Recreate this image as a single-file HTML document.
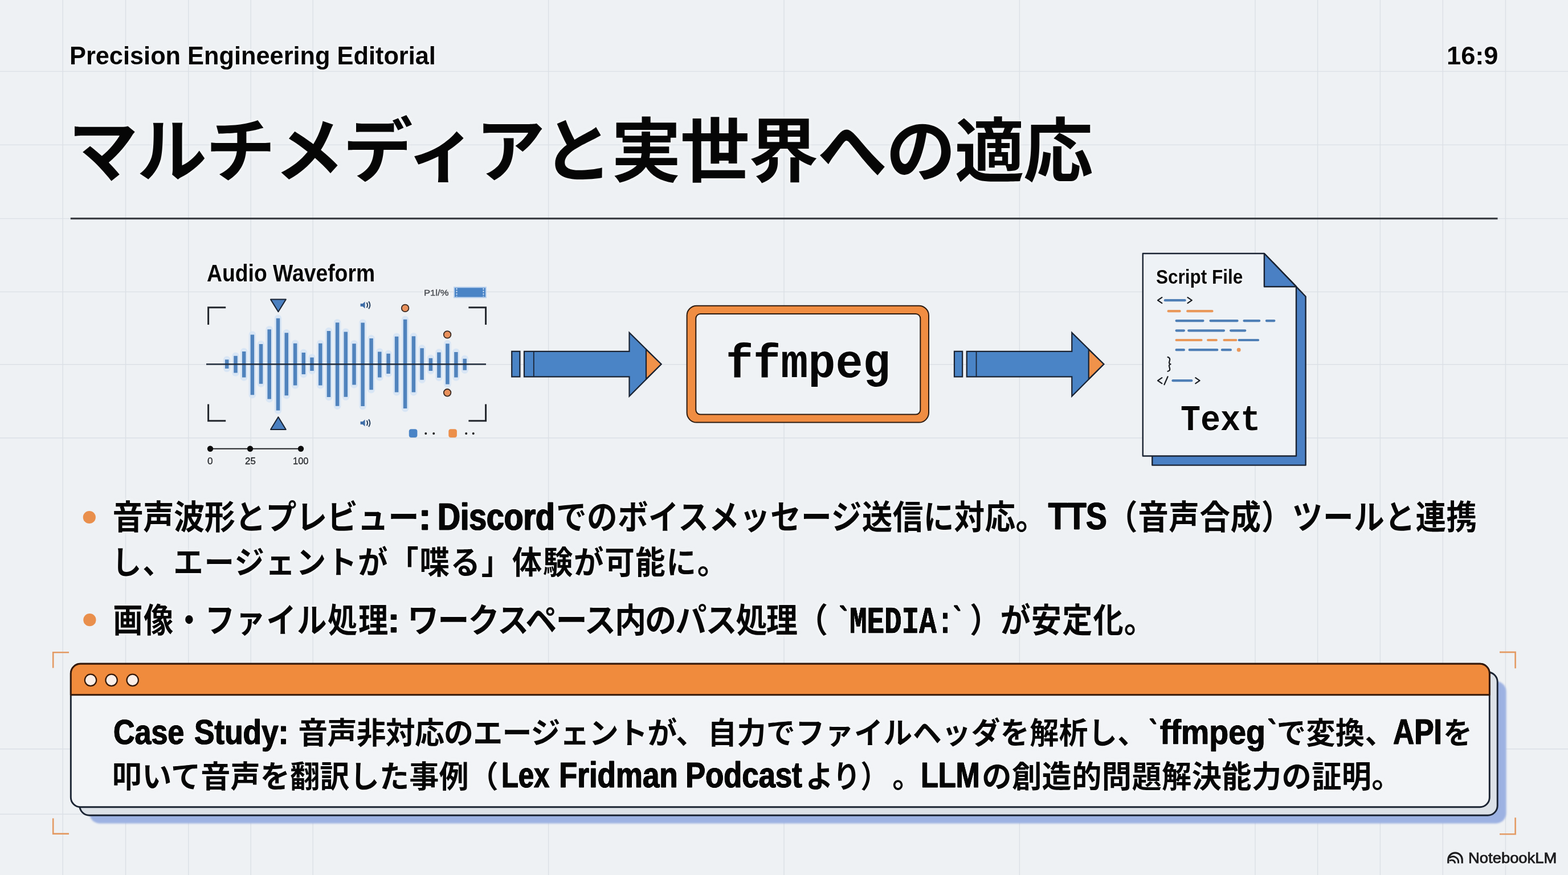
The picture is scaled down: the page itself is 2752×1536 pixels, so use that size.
<!DOCTYPE html>
<html lang="ja"><head><meta charset="utf-8"><title>マルチメディアと実世界への適応</title>
<style>
html,body{margin:0;padding:0}
body{width:2752px;height:1536px;overflow:hidden;position:relative;background:#eef1f4;font-family:"Liberation Sans",sans-serif}
.t{position:absolute;white-space:pre;transform-origin:0 0;font-kerning:none;letter-spacing:0;text-shadow:0 0 3px #f6f8fa,0 0 5px #f6f8fa,0 0 7px rgba(246,248,250,.8)}
svg.jp{filter:drop-shadow(0 0 2.5px rgba(247,249,251,1)) drop-shadow(0 0 3.5px rgba(247,249,251,.9))}
svg.jp text{font-family:"Liberation Sans","Noto Sans CJK JP",sans-serif;font-weight:700;fill:#060606;white-space:pre}
svg{position:absolute;left:0;top:0;overflow:visible}

</style></head><body>
<svg width="2752" height="1536" viewBox="0 0 2752 1536"><path d="M110.2 0V1536M220.5 0V1536M330.7 0V1536M440.2 0V1536M549.2 0V1536M962.6 0V1536M1376 0V1536M1789.4 0V1536M2203 0V1536M2312.6 0V1536M2422.4 0V1536M2532.3 0V1536M2642.4 0V1536M0 125.4H2752M0 254.4H2752M0 383.6H2752M0 512.4H2752M0 639.8H2752M0 768.8H2752M0 1314.8H2752M0 1429.2H165" stroke="#d3d8df" stroke-width="1.4" fill="none" opacity=".7"/>
<path d="M123.8 383.6H2628.5" stroke="#3c3f44" stroke-width="3.2"/>
<path d="M398.2 631.3V647.0M413.5 624.7V654.5M428.2 617.1V662.6M442.9 587.4V693.2M458.0 604.1V673.7M472.7 578.2V700.4M488.0 558.7V720.5M502.8 584.3V694.3M518.1 602.7V676.5M532.8 619.1V657.0M547.5 627.4V650.9M562.3 602.7V676.5M577.0 581.0V697.1M592.1 566.2V712.7M606.8 582.4V696.8M621.5 603.2V675.4M636.6 566.5V713.0M651.6 594.1V684.3M666.3 617.4V662.6M681.6 620.8V655.9M696.1 590.7V688.5M711.1 560.7V717.1M725.9 590.2V688.5M740.6 611.3V666.8M755.9 628.8V650.9M770.4 618.5V662.9M785.4 603.2V674.6M800.4 618.0V662.6M815.7 629.7V649.8" stroke="#d3e3f5" stroke-width="12.5" stroke-linecap="round" fill="none" opacity=".8"/>
<path d="M398.2 631.3V647.0M413.5 624.7V654.5M428.2 617.1V662.6M442.9 587.4V693.2M458.0 604.1V673.7M472.7 578.2V700.4M488.0 558.7V720.5M502.8 584.3V694.3M518.1 602.7V676.5M532.8 619.1V657.0M547.5 627.4V650.9M562.3 602.7V676.5M577.0 581.0V697.1M592.1 566.2V712.7M606.8 582.4V696.8M621.5 603.2V675.4M636.6 566.5V713.0M651.6 594.1V684.3M666.3 617.4V662.6M681.6 620.8V655.9M696.1 590.7V688.5M711.1 560.7V717.1M725.9 590.2V688.5M740.6 611.3V666.8M755.9 628.8V650.9M770.4 618.5V662.9M785.4 603.2V674.6M800.4 618.0V662.6M815.7 629.7V649.8" stroke="#5083bd" stroke-width="6.5" stroke-linecap="butt" fill="none"/>
<path d="M362 639.3H853" stroke="#1f2a3a" stroke-width="2.8" opacity=".92"/>
<path d="M365.6 570V539.8H396.2M822.4 539.8H852.6V570M365.6 709.5V738.8H396.2M822.4 738.8H852.6V709.5" stroke="#22262c" stroke-width="3" fill="none"/>
<path d="M475 525.6H501.8L488.4 547.2Z M475 754H501.8L488.4 732Z" fill="#4b80c0" stroke="#1a2332" stroke-width="2" stroke-linejoin="round"/>
<circle cx="711.1" cy="540.9" r="6.3" fill="#e9915c" stroke="#3a2a22" stroke-width="1.8"/>
<circle cx="785.1" cy="587.4" r="6.3" fill="#e9915c" stroke="#3a2a22" stroke-width="1.8"/>
<circle cx="785.1" cy="689.3" r="6.3" fill="#e9915c" stroke="#3a2a22" stroke-width="1.8"/>
<g transform="translate(641.6 535.6)" fill="none" stroke="#27405f" stroke-width="2"><path d="M-9 -2.5h4l4 -3.5v12l-4 -3.5h-4z" fill="#3f6ea8" stroke="none"/><path d="M2 -4.5q3 4.5 0 9M5.5 -6.5q4.5 6.5 0 13"/></g>
<g transform="translate(641.6 742.6)" fill="none" stroke="#27405f" stroke-width="2"><path d="M-9 -2.5h4l4 -3.5v12l-4 -3.5h-4z" fill="#3f6ea8" stroke="none"/><path d="M2 -4.5q3 4.5 0 9M5.5 -6.5q4.5 6.5 0 13"/></g>
<rect x="797" y="504.3" width="56" height="18" fill="#4a84c6" stroke="#bcd3ee" stroke-width="2"/><path d="M801.5 506v14.6M848.5 506v14.6" stroke="#cfe0f3" stroke-width="2" stroke-dasharray="2.5 2"/>
<rect x="717.8" y="753.3" width="14.6" height="14.6" rx="4" fill="#4a84c6"/><rect x="787.3" y="753.3" width="14.6" height="14.6" rx="4" fill="#ec8f4a"/>
<path d="M747.3 761h.01M761.2 761h.01M818.2 761h.01M830.7 761h.01" stroke="#1b1b1b" stroke-width="4" stroke-linecap="round"/>
<path d="M369 787.8H528" stroke="#202225" stroke-width="2"/>
<circle cx="369" cy="787.8" r="5.2" fill="#0c0c0c"/>
<circle cx="439" cy="787.8" r="5.2" fill="#0c0c0c"/>
<circle cx="528" cy="787.8" r="5.2" fill="#0c0c0c"/>
<g transform="translate(0 0)" stroke="#1a2332" stroke-width="2.2" stroke-linejoin="miter"><rect x="898.2" y="616.8" width="14.2" height="44.6" fill="#4a84c6"/><path d="M920 616.8H1104.5V584L1160.5 639.2L1104.5 695.5V661.4H920Z" fill="#4a84c6"/><path d="M1134 613.5L1160.5 639.2L1134 665.5Z" fill="#f0924a"/><path d="M936.8 616.8V661.4" fill="none" stroke-width="1.8"/></g>
<g transform="translate(776.75 0)" stroke="#1a2332" stroke-width="2.2" stroke-linejoin="miter"><rect x="898.2" y="616.8" width="14.2" height="44.6" fill="#4a84c6"/><path d="M920 616.8H1104.5V584L1160.5 639.2L1104.5 695.5V661.4H920Z" fill="#4a84c6"/><path d="M1134 613.5L1160.5 639.2L1134 665.5Z" fill="#f0924a"/><path d="M936.8 616.8V661.4" fill="none" stroke-width="1.8"/></g>
<rect x="1205.6" y="536.8" width="424.4" height="204.8" rx="17" fill="#f08d42" stroke="#2a1a10" stroke-width="2"/>
<rect x="1221.3" y="551" width="394" height="176.6" rx="8" fill="#eff2f5" stroke="#2a1a10" stroke-width="2"/>
<path d="M2022.3 461H2234.5L2291.6 520.5V816.6H2022.3Z" fill="#4a80c4" stroke="#1a2332" stroke-width="2.4" stroke-linejoin="round"/>
<path d="M2005.8 445H2218.9L2275 503.2V800.5H2005.8Z" fill="#eef2f6" stroke="#1a2332" stroke-width="2.4" stroke-linejoin="round"/>
<path d="M2218.9 445V503.2H2275Z" fill="#4a80c4" stroke="#1a2332" stroke-width="2.4" stroke-linejoin="round"/>
<path d="M2044.8 527.2H2079.6" stroke="#4f7fb6" stroke-width="4.2" stroke-linecap="round" fill="none"/>
<path d="M2050.6 546.2H2070.6M2084.2 546.2H2127.5" stroke="#e9985a" stroke-width="4.2" stroke-linecap="round" fill="none"/>
<path d="M2064.6 563.1H2111.5M2124.5 563.1H2171.6M2183.5 563.1H2210.2M2222.9 563.1H2236.4" stroke="#4f7fb6" stroke-width="4.2" stroke-linecap="round" fill="none"/>
<path d="M2064.6 580.3H2077.9M2086.2 580.3H2148.0M2160.1 580.3H2185.3" stroke="#4f7fb6" stroke-width="4.2" stroke-linecap="round" fill="none"/>
<path d="M2064.6 597.0H2108.5M2120.1 597.0H2134.8M2148.5 597.0H2169.3" stroke="#e9985a" stroke-width="4.2" stroke-linecap="round" fill="none"/>
<path d="M2174.7 597.0H2208.1" stroke="#4f7fb6" stroke-width="4.2" stroke-linecap="round" fill="none"/>
<path d="M2064.6 614.2H2077.9M2087.7 614.2H2136.3M2144.9 614.2H2159.9" stroke="#4f7fb6" stroke-width="4.2" stroke-linecap="round" fill="none"/>
<circle cx="2174.2" cy="614.2" r="3.4" fill="#e9985a"/>
<path d="M2039.3 522.2L2032.0 527.2L2039.3 532.2M2084.5 522.2L2091.8 527.2L2084.5 532.2M2039.3 663.2L2032.0 668.2L2039.3 673.2M2043.4 675.2L2049.5 661.2M2098.3 663.2L2105.6 668.2L2098.3 673.2M2049.5 626.8q4.5 1.5 3.5 5.5l-1 4q-.3 2 2.5 3q-3 1 -2.5 3.5l1 4q1 4 -3.5 5" stroke="#1a1d22" stroke-width="2.2" fill="none" stroke-linecap="round" stroke-linejoin="round"/>
<path d="M2058.5 668.2H2091.3" stroke="#4f7fb6" stroke-width="4.2" stroke-linecap="round" fill="none"/>
<circle cx="156.8" cy="908" r="11.1" fill="#e98f4c"/><circle cx="157.4" cy="1088.2" r="11.1" fill="#e98f4c"/>
<rect x="157" y="1196" width="2486.5" height="249.4" rx="18" fill="#9db2e2" style="filter:blur(1.5px)"/>
<rect x="139.8" y="1180" width="2488.4" height="251.3" rx="17" fill="#dce1e7" stroke="#1a2332" stroke-width="2.9"/>
<rect x="124.3" y="1165.3" width="2490" height="251.5" rx="17" fill="#f2f4f7" stroke="#1a2332" stroke-width="2.9"/>
<path d="M124.3 1219.8V1182.3a17 17 0 0 1 17 -17H2597.3a17 17 0 0 1 17 17V1219.8Z" fill="#f08b3d" stroke="#35190a" stroke-width="2.9" stroke-linejoin="round"/>
<circle cx="159" cy="1193.9" r="10.2" fill="#fcefe8" stroke="#35190a" stroke-width="2.2"/>
<circle cx="195.6" cy="1193.9" r="10.2" fill="#fcefe8" stroke="#35190a" stroke-width="2.2"/>
<circle cx="232.7" cy="1193.9" r="10.2" fill="#fcefe8" stroke="#35190a" stroke-width="2.2"/>
<path d="M121 1145.2H93.2V1172.6M2632 1144.9H2659.6V1173.2M93.2 1436.4V1463.6H121M2659.6 1435.2V1464.2H2632" stroke="#e39a63" stroke-width="2.6" fill="none"/>
<g transform="translate(2554 1515.6)" fill="none" stroke="#1b1b1d" stroke-width="3.2"><path d="M-12.2 0V-6.3A12.2 12.2 0 0 1 12.2 -6.3V0"/><path d="M-10 -9.8A9.6 9.6 0 0 1 5.6 -1.5V0M-10 -4.4A6 6 0 0 1 -0.4 -1V0" stroke-width="2.9"/></g></svg>
<svg class="jp" width="2752" height="1536" viewBox="0 0 2752 1536">
<text x="120" y="309.2" font-size="122.5" letter-spacing="-2">マルチメディアと実世界への適応</text>
<text transform="translate(197.41 929.2) scale(0.9162 1)" font-size="59.3" letter-spacing="-0.62">音声波形とプレビュー</text>
<text transform="translate(975.99 929.2) scale(0.9062 1)" font-size="59.3" letter-spacing="0.24">でのボイスメッセージ送信に対応。</text>
<text transform="translate(1942.99 929.2) scale(0.9037 1)" font-size="59.3" letter-spacing="0.63">（音声合成）ツールと連携</text>
<text transform="translate(196.03 1007.1) scale(0.9458 1)" font-size="55.5" letter-spacing="1.76">し、エージェントが「喋る」体験が可能に。</text>
<text transform="translate(198.14 1109.8) scale(0.8815 1)" font-size="59.3" letter-spacing="1.81">画像・ファイル処理</text>
<text transform="translate(715.08 1109.8) scale(0.9316 1)" font-size="59.3" letter-spacing="-2.22">ワークスペース内のパス処理（</text>
<text transform="translate(1702.07 1109.8) scale(0.9022 1)" font-size="59.3">）</text>
<text transform="translate(1755.57 1109.8) scale(0.8983 1)" font-size="59.3" letter-spacing="1.15">が安定化。</text>
<text transform="translate(523.22 1305.8) scale(0.9816 1)" font-size="53" letter-spacing="-0.86">音声非対応のエージェントが、</text>
<text transform="translate(1242.09 1305.8) scale(0.9613 1)" font-size="53" letter-spacing="0.46">自力でファイルヘッダを解析し、</text>
<text transform="translate(2240.69 1305.8) scale(0.9678 1)" font-size="53" letter-spacing="0.31">で変換、</text>
<text transform="translate(2532.96 1305.8) scale(0.9623 1)" font-size="53">を</text>
<text transform="translate(196.86 1382.7) scale(0.9655 1)" font-size="54" letter-spacing="0.18">叩いて音声を翻訳した事例（</text>
<text transform="translate(1414.11 1382.7) scale(0.8992 1)" font-size="54" letter-spacing="0">より）</text>
<text transform="translate(1566.13 1382.7) scale(0.9444 1)" font-size="54">。</text>
<text transform="translate(1723.36 1382.7) scale(0.9678 1)" font-size="54" letter-spacing="0.38">の創造的問題解決能力の証明。</text>
</svg>

<div class="ln"><span class="t" style="left:121.70px;top:72.32px;font:700 43.60px/52.32px 'Liberation Sans',sans-serif;color:#060606;transform:scaleX(0.9940);">Precision Engineering Editorial</span><span class="t" style="left:2538.65px;top:72.32px;font:700 43.60px/52.32px 'Liberation Sans',sans-serif;color:#060606;transform:scaleX(1.0374);">16:9</span></div>
<div class="ln"><span class="t" style="left:363.07px;top:455.46px;font:700 42.40px/50.88px 'Liberation Sans',sans-serif;color:#060606;transform:scaleX(0.8803);">Audio Waveform</span><span class="t" style="left:2028.69px;top:464.88px;font:700 35.30px/42.36px 'Liberation Sans',sans-serif;color:#060606;transform:scaleX(0.8929);">Script File</span></div>
<div class="ln"><span class="t" style="left:743.89px;top:506.47px;font:400 14.50px/17.4px 'Liberation Sans',sans-serif;color:#4a4d52;transform:scaleX(1.1473);-webkit-text-stroke:0.44px #4a4d52;">P1l/%</span></div>
<div class="ln"><span class="t" style="left:1273.82px;top:591.31px;font:700 83.00px/99.6px 'Liberation Mono',monospace;color:#060606;transform:scaleX(0.9656);">ffmpeg</span></div>
<div class="ln"><span class="t" style="left:2071.66px;top:701.23px;font:700 63.00px/75.6px 'Liberation Mono',monospace;color:#060606;transform:scaleX(0.9269);">Text</span></div>
<div class="ln"><span class="t" style="left:364.23px;top:800.45px;font:400 16.00px/19.2px 'Liberation Sans',sans-serif;color:#2c2f33;transform:scaleX(1.0721);-webkit-text-stroke:0.37px #2c2f33;">0</span><span class="t" style="left:429.55px;top:800.45px;font:400 16.00px/19.2px 'Liberation Sans',sans-serif;color:#2c2f33;transform:scaleX(1.0539);-webkit-text-stroke:0.38px #2c2f33;">25</span><span class="t" style="left:513.94px;top:800.45px;font:400 16.00px/19.2px 'Liberation Sans',sans-serif;color:#2c2f33;transform:scaleX(1.0301);-webkit-text-stroke:0.39px #2c2f33;">100</span></div>
<div class="ln"><span class="t" style="left:735.04px;top:866.57px;font:700 67.00px/80.4px 'Liberation Sans',sans-serif;color:#060606;transform:scaleX(0.9552);text-shadow:1.05px 0 #060606,-1.05px 0 #060606,0.52px 0 #060606,-0.52px 0 #060606,0 0 3px #f6f8fa,0 0 5px #f6f8fa,0 0 7px rgba(246,248,250,.8);-webkit-text-stroke:0.84px #060606;">:</span><span class="t" style="left:768.30px;top:866.57px;font:700 67.00px/80.4px 'Liberation Sans',sans-serif;color:#060606;transform:scaleX(0.8248);text-shadow:1.21px 0 #060606,-1.21px 0 #060606,0.61px 0 #060606,-0.61px 0 #060606,0 0 3px #f6f8fa,0 0 5px #f6f8fa,0 0 7px rgba(246,248,250,.8);-webkit-text-stroke:0.97px #060606;">Discord</span><span class="t" style="left:1839.69px;top:867.02px;font:700 66.00px/79.2px 'Liberation Sans',sans-serif;color:#060606;transform:scaleX(0.8225);text-shadow:1.22px 0 #060606,-1.22px 0 #060606,0.61px 0 #060606,-0.61px 0 #060606,0 0 3px #f6f8fa,0 0 5px #f6f8fa,0 0 7px rgba(246,248,250,.8);-webkit-text-stroke:0.97px #060606;">TTS</span></div>
<div class="ln"><span class="t" style="left:681.25px;top:1053.05px;font:700 61.00px/73.2px 'Liberation Sans',sans-serif;color:#060606;transform:scaleX(0.9792);text-shadow:1.02px 0 #060606,-1.02px 0 #060606,0.51px 0 #060606,-0.51px 0 #060606,0 0 3px #f6f8fa,0 0 5px #f6f8fa,0 0 7px rgba(246,248,250,.8);-webkit-text-stroke:0.82px #060606;">:</span><span class="t" style="left:1467.40px;top:1054.14px;font:700 66.00px/79.2px 'Liberation Mono',monospace;color:#060606;transform:scaleX(0.6754);text-shadow:0.37px 0 #060606,-0.37px 0 #060606,0.19px 0 #060606,-0.19px 0 #060606,0 0 3px #f6f8fa,0 0 5px #f6f8fa,0 0 7px rgba(246,248,250,.8);-webkit-text-stroke:1.18px #060606;">`</span><span class="t" style="left:1490.74px;top:1053.27px;font:700 67.00px/80.4px 'Liberation Mono',monospace;color:#060606;transform:scaleX(0.7596);text-shadow:0.33px 0 #060606,-0.33px 0 #060606,0.16px 0 #060606,-0.16px 0 #060606,0 0 3px #f6f8fa,0 0 5px #f6f8fa,0 0 7px rgba(246,248,250,.8);-webkit-text-stroke:0.66px #060606;">MEDIA:</span><span class="t" style="left:1668.38px;top:1054.14px;font:700 66.00px/79.2px 'Liberation Mono',monospace;color:#060606;transform:scaleX(0.6145);text-shadow:0.41px 0 #060606,-0.41px 0 #060606,0.20px 0 #060606,-0.20px 0 #060606,0 0 3px #f6f8fa,0 0 5px #f6f8fa,0 0 7px rgba(246,248,250,.8);-webkit-text-stroke:1.30px #060606;">`</span></div>
<div class="ln"><span class="t" style="left:198.67px;top:1248.48px;font:700 61.60px/73.92px 'Liberation Sans',sans-serif;color:#060606;transform:scaleX(0.8434);text-shadow:0.71px 0 #060606,-0.71px 0 #060606,0.36px 0 #060606,-0.36px 0 #060606,0 0 3px #f6f8fa,0 0 5px #f6f8fa,0 0 7px rgba(246,248,250,.8);-webkit-text-stroke:0.95px #060606;">Case</span><span class="t" style="left:341.37px;top:1248.48px;font:700 61.60px/73.92px 'Liberation Sans',sans-serif;color:#060606;transform:scaleX(0.8628);text-shadow:0.70px 0 #060606,-0.70px 0 #060606,0.35px 0 #060606,-0.35px 0 #060606,0 0 3px #f6f8fa,0 0 5px #f6f8fa,0 0 7px rgba(246,248,250,.8);-webkit-text-stroke:0.93px #060606;">Study:</span><span class="t" style="left:2017.25px;top:1248.11px;font:700 62.00px/74.4px 'Liberation Sans',sans-serif;color:#060606;transform:scaleX(0.6749);text-shadow:0.89px 0 #060606,-0.89px 0 #060606,0.44px 0 #060606,-0.44px 0 #060606,0 0 3px #f6f8fa,0 0 5px #f6f8fa,0 0 7px rgba(246,248,250,.8);-webkit-text-stroke:1.19px #060606;">`</span><span class="t" style="left:2035.85px;top:1248.11px;font:700 62.00px/74.4px 'Liberation Sans',sans-serif;color:#060606;transform:scaleX(0.8946);text-shadow:0.45px 0 #060606,-0.45px 0 #060606,0.22px 0 #060606,-0.22px 0 #060606,0 0 3px #f6f8fa,0 0 5px #f6f8fa,0 0 7px rgba(246,248,250,.8);-webkit-text-stroke:0.67px #060606;">ffmpeg</span><span class="t" style="left:2224.52px;top:1248.11px;font:700 62.00px/74.4px 'Liberation Sans',sans-serif;color:#060606;transform:scaleX(0.7398);text-shadow:0.81px 0 #060606,-0.81px 0 #060606,0.41px 0 #060606,-0.41px 0 #060606,0 0 3px #f6f8fa,0 0 5px #f6f8fa,0 0 7px rgba(246,248,250,.8);-webkit-text-stroke:1.08px #060606;">`</span><span class="t" style="left:2445.32px;top:1247.15px;font:700 62.80px/75.36px 'Liberation Sans',sans-serif;color:#060606;transform:scaleX(0.8208);text-shadow:0.73px 0 #060606,-0.73px 0 #060606,0.37px 0 #060606,-0.37px 0 #060606,0 0 3px #f6f8fa,0 0 5px #f6f8fa,0 0 7px rgba(246,248,250,.8);-webkit-text-stroke:0.97px #060606;">API</span></div>
<div class="ln"><span class="t" style="left:879.83px;top:1323.14px;font:700 62.60px/75.12px 'Liberation Sans',sans-serif;color:#060606;transform:scaleX(0.7818);text-shadow:0.77px 0 #060606,-0.77px 0 #060606,0.38px 0 #060606,-0.38px 0 #060606,0 0 3px #f6f8fa,0 0 5px #f6f8fa,0 0 7px rgba(246,248,250,.8);-webkit-text-stroke:1.02px #060606;">Lex</span><span class="t" style="left:980.86px;top:1323.14px;font:700 62.60px/75.12px 'Liberation Sans',sans-serif;color:#060606;transform:scaleX(0.8448);text-shadow:0.71px 0 #060606,-0.71px 0 #060606,0.36px 0 #060606,-0.36px 0 #060606,0 0 3px #f6f8fa,0 0 5px #f6f8fa,0 0 7px rgba(246,248,250,.8);-webkit-text-stroke:0.95px #060606;">Fridman</span><span class="t" style="left:1203.28px;top:1323.14px;font:700 62.60px/75.12px 'Liberation Sans',sans-serif;color:#060606;transform:scaleX(0.8404);text-shadow:0.71px 0 #060606,-0.71px 0 #060606,0.36px 0 #060606,-0.36px 0 #060606,0 0 3px #f6f8fa,0 0 5px #f6f8fa,0 0 7px rgba(246,248,250,.8);-webkit-text-stroke:0.95px #060606;">Podcast</span><span class="t" style="left:1615.52px;top:1323.14px;font:700 62.60px/75.12px 'Liberation Sans',sans-serif;color:#060606;transform:scaleX(0.8067);text-shadow:0.74px 0 #060606,-0.74px 0 #060606,0.37px 0 #060606,-0.37px 0 #060606,0 0 3px #f6f8fa,0 0 5px #f6f8fa,0 0 7px rgba(246,248,250,.8);-webkit-text-stroke:0.99px #060606;">LLM</span></div>
<div class="ln"><span class="t" style="left:2576.70px;top:1490.58px;font:400 25.80px/30.96px 'Liberation Sans',sans-serif;color:#1d1d1f;transform:scaleX(1.0623);-webkit-text-stroke:0.85px #1d1d1f;">NotebookLM</span></div>
</body></html>
